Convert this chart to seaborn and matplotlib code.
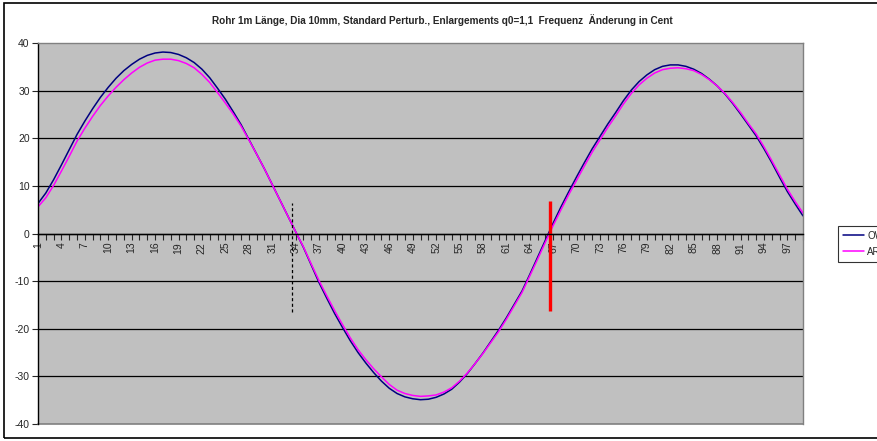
import matplotlib
matplotlib.use("Agg")
import matplotlib.pyplot as plt
from matplotlib.patches import Rectangle
from matplotlib.lines import Line2D
import seaborn as sns
import pandas as pd
import numpy as np

# Werte (Kategorie 1..99)
kategorien = list(range(1, 100))
ow = [6.3, 8.5, 11.3, 14.4, 17.6, 20.8, 23.6, 26.2, 28.6, 30.7,
      32.6, 34.2, 35.5, 36.6, 37.4, 37.9, 38.1, 38.0, 37.6, 36.9,
      35.9, 34.5, 32.7, 30.5, 28.2, 25.6, 22.9, 19.8, 16.7, 13.6,
      10.3, 7.0, 3.7, 0.4, -2.9, -6.6, -10.3, -13.6, -16.8, -19.7,
      -22.5, -25.0, -27.2, -29.2, -31.0, -32.5, -33.6, -34.3, -34.7, -34.9,
      -34.8, -34.4, -33.7, -32.7, -31.2, -29.4, -27.3, -25.1, -22.7, -20.3,
      -17.7, -14.9, -12.1, -8.6, -5.0, -1.4, 2.2, 5.6, 8.8, 11.9,
      14.9, 17.8, 20.4, 23.0, 25.4, 27.9, 30.1, 31.9, 33.3, 34.4,
      35.1, 35.4, 35.4, 35.1, 34.5, 33.6, 32.4, 31.0, 29.3, 27.3,
      25.1, 22.8, 20.5, 17.8, 14.9, 11.8, 8.8, 6.2, 3.7]
ar = [5.6, 7.5, 10.1, 13.1, 16.2, 19.4, 22.1, 24.6, 26.9, 28.9,
      30.7, 32.3, 33.7, 34.9, 35.8, 36.4, 36.6, 36.6, 36.3, 35.7,
      34.8, 33.4, 31.7, 29.6, 27.4, 25.1, 22.6, 19.7, 16.7, 13.6,
      10.3, 7.0, 3.7, 0.4, -2.8, -6.4, -9.9, -13.1, -16.2, -19.1,
      -21.9, -24.4, -26.5, -28.4, -30.1, -31.7, -32.9, -33.6, -34.0, -34.2,
      -34.1, -33.9, -33.3, -32.4, -31.0, -29.3, -27.3, -25.2, -22.9, -20.6,
      -18.0, -15.2, -12.4, -8.9, -5.4, -1.8, 1.7, 5.0, 8.2, 11.2,
      14.2, 17.1, 19.7, 22.3, 24.7, 27.2, 29.4, 31.2, 32.6, 33.7,
      34.4, 34.7, 34.8, 34.6, 34.2, 33.4, 32.3, 31.0, 29.4, 27.5,
      25.4, 23.1, 20.9, 18.2, 15.3, 12.3, 9.3, 6.7, 4.3]
serien = ["OW", "AR"]
farben = ["#000080", "#FF00FF"]

# Markierungslinien (Kategorie, von, bis)
marke_gestrichelt = (33.5, 6.5, -16.4)
marke_rot = (66.6, 6.8, -16.2)

titel = "Rohr 1m Länge, Dia 10mm, Standard Perturb., Enlargements q0=1,1  Frequenz  Änderung in Cent"

df = pd.DataFrame({"kategorie": kategorien * 2,
                   "wert": ow + ar,
                   "serie": ["OW"] * len(ow) + ["AR"] * len(ar)})

sns.set_style("white")
plt.rcParams['font.family'] = ['Liberation Sans', 'DejaVu Sans']
plt.rcParams['axes.unicode_minus'] = False

fig = plt.figure(figsize=(8.77, 4.41), dpi=100)
ax = fig.add_axes([38 / 877, 17 / 441, 765 / 877, 381 / 441])
ax.set_facecolor("#C0C0C0")

sns.lineplot(data=df, x="kategorie", y="wert", hue="serie", hue_order=serien,
             palette=farben, linewidth=1.1, legend=False, ax=ax)

# x-Achse bei y=0 (vor dem Setzen der Ticks, sonst gehen die Einstellungen verloren)
ax.spines["bottom"].set_position(("data", 0))

ax.set_xlim(kategorien[0], kategorien[-1])
ax.set_ylim(-40, 40)
ax.set_yticks(range(-40, 41, 10))
ax.set_xticks(kategorien)
ax.set_xticklabels([str(k) if (k - 1) % 3 == 0 else "" for k in kategorien], fontsize=7.5)
ax.tick_params(axis="y", labelsize=7.5, length=4, width=0.8, pad=2, left=True)
ax.tick_params(axis="x", length=4, width=0.8, pad=2, bottom=True, direction="out",
               labelrotation=90)
ax.set_xlabel("")
ax.set_ylabel("")

for y in range(-30, 31, 10):
    ax.axhline(y, color="black", linewidth=0.9, zorder=0.5)

ax.spines["bottom"].set_color("black")
ax.spines["left"].set_color("black")
ax.spines["top"].set_color("#808080")
ax.spines["right"].set_color("#808080")
for s in ["top", "right", "left", "bottom"]:
    ax.spines[s].set_linewidth(1.0)
ax.axhline(-40, color="#808080", linewidth=1.2, clip_on=False)

ax.vlines(marke_gestrichelt[0], marke_gestrichelt[2], marke_gestrichelt[1],
          colors="black", linestyles=(0, (2.5, 2)), linewidth=0.9)
ax.vlines(marke_rot[0], marke_rot[2], marke_rot[1], colors="#FF0000", linewidth=2.4)

handles = [Line2D([0], [0], color=c, linewidth=1.1) for c in farben]
leg = ax.legend(handles, serien, loc="upper left", bbox_to_anchor=(838 / 877, 1 - 226 / 441),
                bbox_transform=fig.transFigure, fontsize=7, frameon=True, fancybox=False,
                edgecolor="black", borderaxespad=0, borderpad=0.5, handlelength=2.2,
                handletextpad=0.3, labelspacing=0.6)
leg.get_frame().set_linewidth(0.8)
leg.get_frame().set_facecolor("white")

fig.text(442 / 877, 1 - 20 / 441, titel, ha="center", va="center",
         fontsize=7.2, fontweight="bold")

fig.add_artist(Rectangle((4 / 877, 3 / 441), 1.0, 435 / 441, transform=fig.transFigure,
                         fill=False, edgecolor="black", linewidth=1.2, clip_on=False))

fig.savefig("out.png", dpi=100)
